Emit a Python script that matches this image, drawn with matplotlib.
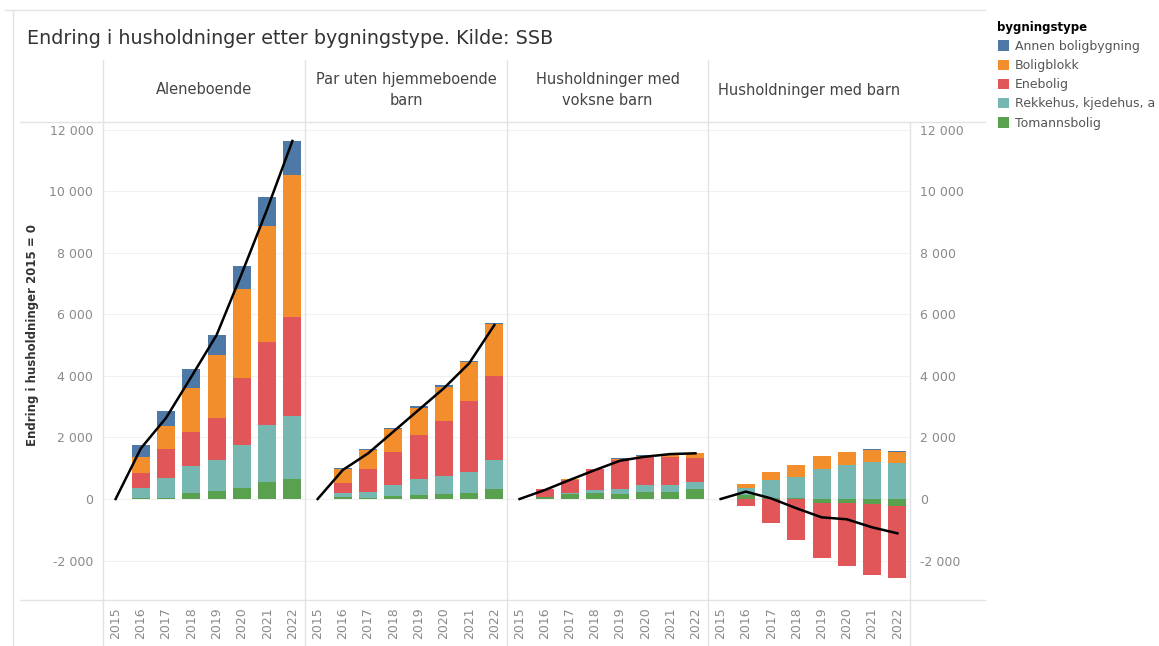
import matplotlib.pyplot as plt
import numpy as np
from matplotlib.lines import Line2D
from matplotlib.ticker import FuncFormatter

years = [2015, 2016, 2017, 2018, 2019, 2020, 2021, 2022]
categories = ["Annen boligbygning", "Boligblokk", "Enebolig",
              "Rekkehus, kjedehus, a", "Tomannsbolig"]
colors = ["#4e79a7", "#f28e2b", "#e15759", "#76b7b2", "#59a14f"]
panel_titles = ["Aleneboende", "Par uten hjemmeboende\nbarn",
                "Husholdninger med\nvoksne barn", "Husholdninger med barn"]

# Aleneboende
alene_annen = [0, 380, 480, 600, 660, 760, 950, 1120]
alene_blokk = [0, 520, 770, 1440, 2050, 2890, 3750, 4630]
alene_ene = [0, 490, 940, 1100, 1370, 2170, 2720, 3200]
alene_rekke = [0, 330, 640, 890, 1000, 1390, 1830, 2060]
alene_tomanns = [0, 20, 30, 185, 260, 370, 560, 640]
alene_total = [0, 1645, 2640, 3975, 5330, 7335, 9415, 11635]

# Par uten hjemmeboende barn
par_annen = [0, 20, 30, 40, 40, 40, 40, 40]
par_blokk = [0, 470, 630, 760, 890, 1115, 1270, 1670]
par_ene = [0, 310, 730, 1060, 1440, 1780, 2290, 2740]
par_rekke = [0, 150, 190, 350, 510, 600, 690, 940]
par_tomanns = [0, 50, 40, 110, 130, 160, 190, 330]
par_total = [0, 945, 1485, 2190, 2895, 3600, 4410, 5655]

# Husholdninger med voksne barn
voksne_annen = [0, 0, 0, 0, 10, 10, 10, 20]
voksne_blokk = [0, 0, 10, 20, 30, 30, 75, 160]
voksne_ene = [0, 240, 430, 670, 960, 920, 900, 760]
voksne_rekke = [0, 30, 50, 110, 170, 220, 220, 250]
voksne_tomanns = [0, 50, 150, 185, 150, 240, 240, 310]
voksne_total = [0, 290, 620, 940, 1245, 1375, 1460, 1485]

# Husholdninger med barn
barn_annen = [0, 0, 0, 0, 0, 10, 20, 10]
barn_blokk = [0, 130, 270, 410, 430, 430, 380, 360]
barn_ene = [0, -240, -780, -1320, -1790, -2040, -2300, -2360]
barn_rekke = [0, 250, 580, 670, 970, 1100, 1210, 1180]
barn_tomanns = [0, 120, 30, 40, -140, -140, -170, -220]
barn_total = [0, 240, 20, -300, -595, -660, -920, -1115]

panels = [
    ([alene_annen, alene_blokk, alene_ene, alene_rekke, alene_tomanns], alene_total),
    ([par_annen, par_blokk, par_ene, par_rekke, par_tomanns], par_total),
    ([voksne_annen, voksne_blokk, voksne_ene, voksne_rekke, voksne_tomanns], voksne_total),
    ([barn_annen, barn_blokk, barn_ene, barn_rekke, barn_tomanns], barn_total),
]

W, H = 1159, 646
fig = plt.figure(figsize=(W / 100, H / 100), dpi=100)


def fx(px):
    return px / W


def fy(py):
    return 1 - py / H


edges = [103, 305, 507, 708, 910]
top, bottom = 122, 600
grey_line = "#e3e3e3"
fmt = FuncFormatter(lambda v, _: f"{int(v):,}".replace(",", " "))

x = np.arange(len(years))
handles = []
for i, (series, total) in enumerate(panels):
    ax = fig.add_axes([fx(edges[i]), fy(bottom), fx(edges[i + 1] - edges[i]),
                       (bottom - top) / H])
    pos = np.zeros(len(years))
    neg = np.zeros(len(years))
    # stack from the bottom: Tomannsbolig first, Annen on top
    for k in reversed(range(len(categories))):
        v = np.array(series[k], dtype=float)
        base = np.where(v >= 0, pos, neg)
        b = ax.bar(x, v, bottom=base, width=0.72, color=colors[k],
                   label=categories[k], zorder=2)
        if i == 0:
            handles.append(b)
        pos = pos + np.where(v >= 0, v, 0)
        neg = neg + np.where(v < 0, v, 0)
    ax.plot(x, total, color="black", lw=1.8, zorder=3)

    ax.set_xlim(-0.5, 7.5)
    ax.set_ylim(-3282, 12252)
    ax.set_yticks(range(-2000, 12001, 2000))
    ax.yaxis.set_major_formatter(fmt)
    ax.yaxis.grid(True, color="#f1f1f1", lw=0.8)
    ax.set_axisbelow(True)
    for s in ax.spines.values():
        s.set_visible(False)
    ax.set_xticks(x)
    ax.set_xticklabels(years, rotation=90, fontsize=9, color="#8a8a8a")
    ax.tick_params(axis="x", length=0, pad=5)
    ax.tick_params(axis="y", length=0, labelsize=9, labelcolor="#8a8a8a",
                   labelleft=(i == 0), labelright=(i == 3), pad=7)

    fig.text(fx((edges[i] + edges[i + 1]) / 2), fy(90), panel_titles[i],
             ha="center", va="center", fontsize=10.5, color="#444444",
             linespacing=1.45)

# frame lines
fig.add_artist(Line2D([fx(5), fx(985)], [fy(10), fy(10)], color=grey_line, lw=1))
fig.add_artist(Line2D([fx(13), fx(13)], [fy(10), fy(646)], color=grey_line, lw=1))
fig.add_artist(Line2D([fx(20), fx(985)], [fy(top), fy(top)], color=grey_line, lw=1))
fig.add_artist(Line2D([fx(20), fx(985)], [fy(bottom), fy(bottom)], color=grey_line, lw=1))
for e in edges[:-1]:
    fig.add_artist(Line2D([fx(e), fx(e)], [fy(60), fy(646)], color=grey_line, lw=1))
fig.add_artist(Line2D([fx(edges[-1]), fx(edges[-1])], [fy(top), fy(646)],
                      color=grey_line, lw=1))

fig.text(fx(27), fy(38), "Endring i husholdninger etter bygningstype. Kilde: SSB",
         ha="left", va="center", fontsize=13.8, color="#333333")
fig.text(fx(33), fy(335), "Endring i husholdninger 2015 = 0", rotation=90,
         ha="center", va="center", fontsize=8.5, weight="bold", color="#333333")

leg = fig.legend(handles=handles[::-1], labels=categories, loc="upper left",
                 bbox_to_anchor=(fx(995), fy(18)), frameon=False,
                 title="bygningstype", alignment="left", fontsize=9,
                 title_fontproperties={"weight": "bold", "size": 8.5},
                 handlelength=0.9, handleheight=0.9, handletextpad=0.5,
                 labelspacing=0.5, borderaxespad=0, borderpad=0.2)
for t in leg.get_texts():
    t.set_color("#555555")

fig.savefig("out.png", dpi=100)
